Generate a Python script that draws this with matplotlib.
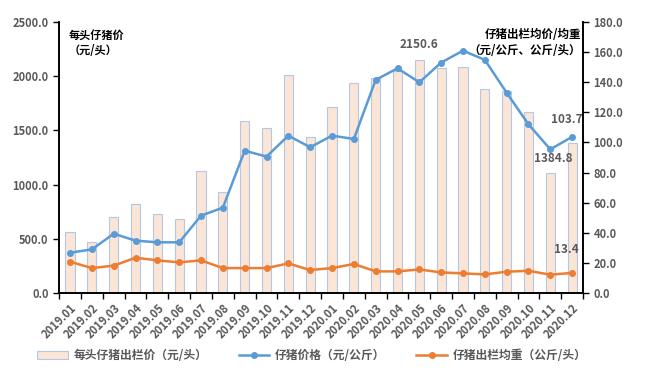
import numpy as np
import matplotlib.pyplot as plt

plt.rcParams['font.family'] = ['Noto Sans CJK SC', 'DejaVu Sans']

months = ['2019.01', '2019.02', '2019.03', '2019.04', '2019.05', '2019.06',
          '2019.07', '2019.08', '2019.09', '2019.10', '2019.11', '2019.12',
          '2020.01', '2020.02', '2020.03', '2020.04', '2020.05', '2020.06',
          '2020.07', '2020.08', '2020.09', '2020.10', '2020.11', '2020.12']

# 每头仔猪价 (元/头)
piglet_price_head = [560, 475, 700, 820, 725, 680, 1125, 928, 1582, 1522, 2011, 1440,
                     1712, 1937, 1982, 2045, 2150.6, 2073, 2082, 1879, 1863, 1667,
                     1104, 1384.8]
# 仔猪价格 (元/公斤)
piglet_price_kg = [26.8, 29.0, 39.4, 34.8, 33.7, 33.7, 51.4, 56.7, 94.5, 90.6, 104.5, 96.8,
                   104.5, 102.3, 141.5, 149.2, 139.9, 153.0, 160.9, 154.8, 133.0, 112.0,
                   95.4, 103.7]
# 仔猪出栏均重 (公斤/头)
piglet_weight = [20.8, 16.6, 18.2, 23.5, 21.7, 20.4, 21.7, 16.6, 16.6, 16.6, 19.7, 15.3,
                 16.6, 19.3, 14.4, 14.4, 15.7, 13.7, 13.1, 12.4, 14.2, 14.8, 12.2, 13.4]

blue = '#5b9bd5'
orange = '#ed7d31'
gray = '#595959'

fig = plt.figure(figsize=(6.5, 3.71), dpi=100)
ax = fig.add_axes([0.091, 0.21, 0.806, 0.731])
ax2 = ax.twinx()

x = np.arange(len(months))
bars = ax.bar(x, piglet_price_head, width=0.42, color='#fbe5d6', edgecolor='#b4c7e7',
              linewidth=0.8, label='每头仔猪出栏价（元/头）')
l1, = ax2.plot(x, piglet_price_kg, color=blue, lw=1.8, marker='o', ms=4,
               label='仔猪价格（元/公斤）')
l2, = ax2.plot(x, piglet_weight, color=orange, lw=1.8, marker='o', ms=4,
               label='仔猪出栏均重（公斤/头）')

ax.set_xlim(-0.5, len(months) - 0.5)
ax.set_ylim(0, 2500)
ax2.set_ylim(0, 180)
ax.set_yticks(np.arange(0, 2501, 500))
ax2.set_yticks(np.arange(0, 181, 20))
ax.set_yticklabels([f'{v:.1f}' for v in np.arange(0, 2501, 500)])
ax2.set_yticklabels([f'{v:.1f}' for v in np.arange(0, 181, 20)])

ax.set_xticks(x)
ax.set_xticklabels(months, rotation=45, ha='right', rotation_mode='anchor')
ax.set_xticks(np.arange(-0.5, len(months), 1), minor=True)
ax.tick_params(axis='x', which='major', length=0, pad=6, labelsize=8, labelcolor=gray)
ax.tick_params(axis='x', which='minor', length=4, direction='out', width=1)
ax.tick_params(axis='y', length=4, width=1, labelsize=8, labelcolor=gray)
ax2.tick_params(axis='y', length=4, width=1, labelsize=8, labelcolor=gray)
for a in (ax, ax2):
    a.spines['top'].set_visible(False)
    for lbl in a.get_xticklabels() + a.get_yticklabels():
        lbl.set_fontweight('bold')
for s in ('left', 'right', 'bottom'):
    ax2.spines[s].set_linewidth(1.2)
    ax.spines[s].set_linewidth(1.2)

ax.text(-0.05, 2440, '每头仔猪价\n（元/头）', fontsize=8, fontweight='bold', va='top',
        ha='left', color='black', linespacing=1.3)
ax2.text(23.4, 176, '仔猪出栏均价/均重\n（元/公斤、公斤/头）', fontsize=8.3,
         fontweight='bold', va='top', ha='right', color='black', linespacing=1.3)

ax.annotate(f'{piglet_price_head[16]:.1f}', (16, piglet_price_head[16]), xytext=(0, 6),
            textcoords='offset points', ha='center', va='bottom', fontsize=8.5,
            fontweight='bold', color=gray)
ax.annotate(f'{piglet_price_head[23]:.1f}', (22, piglet_price_head[23]), xytext=(2, -11),
            textcoords='offset points', ha='center', va='center', fontsize=8.5,
            fontweight='bold', color=gray)
ax2.annotate(f'{piglet_price_kg[23]:.1f}', (23, piglet_price_kg[23]), xytext=(-4, 8),
             textcoords='offset points', ha='center', va='bottom', fontsize=8.5,
             fontweight='bold', color=gray)
ax2.annotate(f'{piglet_weight[23]:.1f}', (23, piglet_weight[23]), xytext=(-4, 12),
             textcoords='offset points', ha='center', va='bottom', fontsize=8.5,
             fontweight='bold', color=gray)

leg = fig.legend(handles=[bars, l1, l2], loc='lower center', ncol=3,
                 bbox_to_anchor=(0.48, -0.005), frameon=False,
                 handlelength=2.6, columnspacing=2.6, handletextpad=0.5,
                 prop={'weight': 'bold', 'size': 8.5})
for t in leg.get_texts():
    t.set_color(gray)

fig.savefig('out.png', dpi=100)
